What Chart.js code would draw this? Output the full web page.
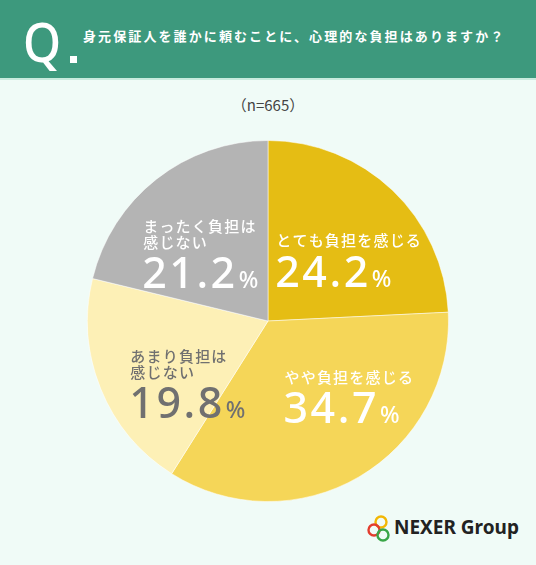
<!DOCTYPE html>
<html lang="ja">
<head>
<meta charset="utf-8">
<script src="https://cdn.jsdelivr.net/npm/chart.js@4"></script>
<style>
  html, body { margin: 0; padding: 0; }
  body { width: 536px; height: 565px; background: #f0fbf7; position: relative; overflow: hidden;
         font-family: "Noto Sans CJK JP", "Noto Sans", sans-serif; }
  .head { position: absolute; left: 0; top: 0; width: 536px; height: 78px; background: #3d997d;
          border-bottom: 2px solid #c8ebde; }
  .q { position: absolute; left: 23px; top: 4px; color: #fff; font: 500 54px "Noto Sans", sans-serif;
       transform: scaleX(0.9); transform-origin: left; }
  .dot { position: absolute; left: 70px; top: 56px; width: 7px; height: 7px; background: #fff; }
  .qtext { position: absolute; left: 83px; top: 26px; color: #fff; font-size: 13px; font-weight: 700;
           letter-spacing: 2.1px; white-space: nowrap; }
  .n { position: absolute; left: 0; top: 94px; width: 536px; text-align: center; color: #444;
       font-size: 15px; }
  .box { position: absolute; left: 87px; top: 140px; width: 362px; height: 362px; }
  .logo { position: absolute; left: 364px; top: 514px; }
  .logotext { position: absolute; left: 394px; top: 514px; font: 700 19px "Noto Sans", sans-serif; color: #222; }
</style>
</head>
<body>
<div class="head">
  <div class="q">Q</div>
  <div class="dot"></div>
  <div class="qtext">身元保証人を誰かに頼むことに、心理的な負担はありますか？</div>
</div>
<div class="n">（n=665）</div>
<div class="box"><canvas id="chart"></canvas></div>
<svg class="logo" width="30" height="30" viewBox="0 0 30 30">
  <circle cx="17" cy="8" r="5.5" fill="none" stroke="#f2b705" stroke-width="2.4"/>
  <circle cx="10" cy="16" r="5.5" fill="none" stroke="#e33d2e" stroke-width="2.4"/>
  <circle cx="19" cy="21" r="5.5" fill="none" stroke="#3aa648" stroke-width="2.4"/>
</svg>
<div class="logotext">NEXER Group</div>

<script>
const categories = [
  ['とても負担を感じる'],
  ['やや負担を感じる'],
  ['あまり負担は', '感じない'],
  ['まったく負担は', '感じない']
];
const values = [24.2, 34.7, 19.8, 21.2];
const colors = ['#e5bd14', '#f5d658', '#fdf0b6', '#b4b4b4'];
const textColors = ['#ffffff', '#ffffff', '#707070', '#ffffff'];

// nudges of each label block from the arc centre point (left aligned)
const labelNudge = [[-54, -15], [-29, -22], [-54, 1], [-69, -24]];

const sliceLabels = {
  id: 'sliceLabels',
  afterDatasetsDraw(chart) {
    const ctx = chart.ctx;
    const meta = chart.getDatasetMeta(0);
    meta.data.forEach((arc, i) => {
      const p = arc.getCenterPoint();
      const x = p.x + labelNudge[i][0];
      let y = p.y + labelNudge[i][1];
      ctx.save();
      ctx.fillStyle = textColors[i];
      ctx.textAlign = 'left';
      ctx.textBaseline = 'middle';
      ctx.font = '500 15px "Noto Sans CJK JP"';
      ctx.letterSpacing = '1.2px';
      categories[i].forEach((line, k) => {
        ctx.fillText(line, x, y + k * 16);
      });
      y += (categories[i].length - 1) * 16;
      ctx.textBaseline = 'alphabetic';
      ctx.letterSpacing = '2.5px';
      ctx.font = '500 43px "Noto Sans"';
      const num = values[i].toFixed(1);
      ctx.fillText(num, x - 1, y + 46);
      const w = ctx.measureText(num).width;
      ctx.letterSpacing = '0px';
      ctx.font = '500 23px "Noto Sans"';
      ctx.fillText('%', x - 1 + w + 1, y + 46);
      ctx.restore();
    });
  }
};

new Chart(document.getElementById('chart'), {
  type: 'pie',
  data: {
    labels: categories.map(c => c.join('')),
    datasets: [{
      data: values,
      backgroundColor: colors,
      borderColor: 'rgba(255,255,255,0.5)',
      borderWidth: 1
    }]
  },
  options: {
    responsive: true,
    maintainAspectRatio: false,
    animation: false,
    layout: { padding: 0 },
    plugins: {
      legend: { display: false },
      tooltip: { enabled: false }
    }
  },
  plugins: [sliceLabels]
});
</script>
</body>
</html>
